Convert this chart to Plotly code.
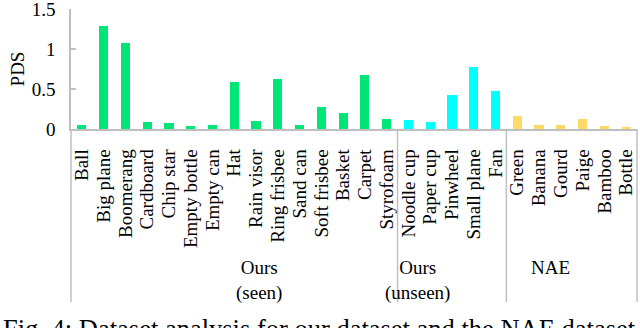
import plotly.graph_objects as go

# Objects and their PDS values.
seen_names = ["Ball", "Big plane", "Boomerang", "Cardboard", "Chip star", "Empty bottle",
              "Empty can", "Hat", "Rain visor", "Ring frisbee", "Sand can", "Soft frisbee",
              "Basket", "Carpet", "Styrofoam"]
seen_pds = [0.05, 1.29, 1.08, 0.09, 0.08, 0.04, 0.05, 0.59, 0.10, 0.62, 0.05, 0.28, 0.20, 0.67, 0.13]

unseen_names = ["Noodle cup", "Paper cup", "Pinwheel", "Small plane", "Fan"]
unseen_pds = [0.11, 0.09, 0.43, 0.77, 0.47]

nae_names = ["Green", "Banana", "Gourd", "Paige", "Bamboo", "Bottle"]
nae_pds = [0.16, 0.05, 0.05, 0.125, 0.04, 0.03]

y_ticks = [0, 0.5, 1, 1.5]
y_tick_text = ["0", "0.5", "1", "1.5"]

group_labels = ["Ours<br>(seen)", "Ours<br>(unseen)", "NAE"]
group_colors = ["#00E676", "#00FFFF", "#FFD966"]
caption = "Fig. 4: Dataset analysis for our dataset and the NAE dataset"

groups = [(seen_names, seen_pds), (unseen_names, unseen_pds), (nae_names, nae_pds)]
all_names = seen_names + unseen_names + nae_names
n_total = len(all_names)

font_family = "Liberation Serif, Times New Roman, serif"
axis_gray = "#BFBFBF"

fig = go.Figure()

# One bar trace per group so each group keeps its own colour.
for (names, values), color, label in zip(groups, group_colors, group_labels):
    fig.add_trace(go.Bar(x=names, y=values, marker=dict(color=color, line=dict(width=0)),
                         name=label, showlegend=False))

# Group boxes under the category labels (Excel-style multi-level axis).
start = 0
for (names, values), label in zip(groups, group_labels):
    end = start + len(names)
    fig.add_shape(type="line", xref="x domain", yref="paper",
                  x0=end / n_total, x1=end / n_total, y0=0, y1=-1.442,
                  line=dict(color=axis_gray, width=1.5))
    fig.add_annotation(text=label, xref="x domain", yref="paper",
                       x=(start + end) / 2 / n_total, y=0, yanchor="top", yshift=-126,
                       showarrow=False, font=dict(size=19, family=font_family, color="black"))
    start = end

# Left axis line runs down through the label area too.
fig.add_shape(type="line", xref="x domain", yref="paper", x0=0, x1=0, y0=0, y1=-1.442,
              line=dict(color=axis_gray, width=1.5))

fig.add_annotation(text=caption, xref="paper", yref="paper", x=0, y=0,
                   xanchor="left", yanchor="top", xshift=-70, yshift=-183,
                   showarrow=False, font=dict(size=26.5, family=font_family, color="black"))

fig.update_layout(
    width=640, height=328,
    margin=dict(l=71, r=3, t=9, b=199, autoexpand=False),
    paper_bgcolor="white", plot_bgcolor="white",
    barmode="stack", bargap=0.58,
    font=dict(family=font_family, size=19, color="black"),
)
fig.update_xaxes(
    type="category", categoryorder="array", categoryarray=all_names,
    tickmode="array", tickvals=all_names, ticktext=all_names,
    tickangle=-90, showline=True, linecolor=axis_gray, linewidth=1.5,
    ticks="outside", ticklen=11, tickcolor="rgba(0,0,0,0)",
    showgrid=False, tickfont=dict(size=19), automargin=False,
)
fig.update_yaxes(
    range=[0, 1.5001], tickmode="array", tickvals=y_ticks, ticktext=y_tick_text,
    showline=True, linecolor=axis_gray, linewidth=1.5,
    ticks="inside", ticklen=5, tickcolor=axis_gray, tickwidth=1.5,
    ticklabeloverflow="allow", ticklabelstandoff=10,
    showgrid=False, zeroline=False, tickfont=dict(size=19), automargin=False,
    title=dict(text="PDS", font=dict(size=19), standoff=2),
)

# Drop the default page margin so the figure sits at the window's corner.
fig.write_html("out.html", config={"displayModeBar": False},
               post_script="document.body.style.margin = '0';")
